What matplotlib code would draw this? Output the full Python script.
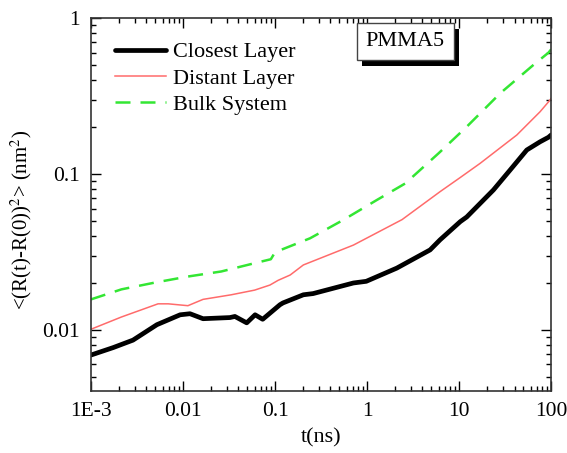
import matplotlib
matplotlib.use("Agg")
import matplotlib.pyplot as plt
from matplotlib import patheffects
from matplotlib.ticker import LogLocator, FixedLocator, FixedFormatter, NullFormatter

# values (t in ns, MSD in nm^2)
closest_t = [0.001, 0.00174, 0.00286, 0.0052, 0.0093, 0.0119, 0.0165, 0.0323, 0.0366,
             0.0492, 0.0607, 0.0734, 0.113, 0.122, 0.203, 0.259, 0.71, 0.98, 2.1,
             4.84, 6.2, 10.3, 12.1, 23.6, 35.8, 54.4, 75.9, 93.5, 100]
closest_msd = [0.0069, 0.0077, 0.0086, 0.0108, 0.0125, 0.0127, 0.0118, 0.0120, 0.0122,
               0.0111, 0.0125, 0.0117, 0.0145, 0.0149, 0.0168, 0.0171, 0.0200, 0.0205, 0.0249,
               0.0326, 0.0378, 0.0495, 0.053, 0.079, 0.106, 0.1426, 0.161, 0.172, 0.178]

distant_t = [0.001, 0.00214, 0.00535, 0.0069, 0.0113, 0.0165, 0.0334, 0.06, 0.088,
             0.108, 0.146, 0.203, 0.71, 2.4, 6.2, 10.3, 16.9, 42.4, 75.9, 93.5, 100]
distant_msd = [0.0101, 0.0121, 0.0147, 0.0147, 0.0143, 0.0157, 0.0168, 0.018, 0.0194,
               0.0208, 0.0225, 0.0261, 0.035, 0.051, 0.077, 0.095, 0.117, 0.178, 0.251, 0.29, 0.305]

bulk_t = [0.001, 0.00214, 0.0049, 0.0113, 0.026, 0.06, 0.09, 0.1, 0.24, 0.55, 1.27,
          2.6, 6.0, 12.1, 27.9, 64, 93.5, 100]
bulk_msd = [0.0157, 0.0182, 0.0201, 0.022, 0.0237, 0.0268, 0.0284, 0.0315, 0.0387, 0.0507, 0.068,
            0.087, 0.136, 0.201, 0.329, 0.50, 0.60, 0.63]

x_ticks = [1e-3, 1e-2, 1e-1, 1, 10, 100]
x_labels = ["1E-3", "0.01", "0.1", "1", "10", "100"]
y_ticks = [0.01, 0.1, 1]
y_labels = ["0.01", "0.1", "1"]

plt.rcParams["font.family"] = ["Liberation Serif", "DejaVu Serif"]
plt.rcParams["mathtext.fontset"] = "stix"

fig = plt.figure(figsize=(5.67, 4.53), dpi=100)
ax = fig.add_axes([0.1605, 0.137, 0.8115, 0.823])

ax.plot(closest_t, closest_msd, color="black", lw=3.4, label="Closest Layer",
        solid_joinstyle="round", solid_capstyle="round")
ax.plot(distant_t, distant_msd, color="#ff6b6b", lw=1.1, label="Distant Layer")
ax.plot(bulk_t, bulk_msd, color="#33e633", lw=1.8, ls=(0, (6, 4)), label="Bulk System")

ax.set_xscale("log")
ax.set_yscale("log")
ax.set_xlim(1e-3, 100)
ax.set_ylim(0.00406, 1)

ax.xaxis.set_major_locator(FixedLocator(x_ticks))
ax.xaxis.set_major_formatter(FixedFormatter(x_labels))
ax.yaxis.set_major_locator(FixedLocator(y_ticks))
ax.yaxis.set_major_formatter(FixedFormatter(y_labels))
ax.xaxis.set_minor_locator(LogLocator(base=10, subs=range(2, 10), numticks=20))
ax.yaxis.set_minor_locator(LogLocator(base=10, subs=range(2, 10), numticks=20))
ax.xaxis.set_minor_formatter(NullFormatter())
ax.yaxis.set_minor_formatter(NullFormatter())

ax.tick_params(which="both", direction="in", top=True, right=True, labelsize=15.5, width=1)
ax.tick_params(which="major", length=7, pad=8)
ax.tick_params(which="minor", length=3.5)
for s in ax.spines.values():
    s.set_linewidth(1.2)
    s.set_color("#333333")

ax.set_xlabel("t(ns)", fontsize=16, labelpad=5)
ax.set_ylabel("<(R(t)-R(0))$^2$> (nm$^2$)", fontsize=15)
ax.yaxis.set_label_coords(-0.124, 0.458)

leg = ax.legend(loc="upper left", frameon=False, fontsize=16, handlelength=2.3,
                handletextpad=0.3, labelspacing=0.25, borderaxespad=0.5,
                bbox_to_anchor=(0.009, 0.99))

# boxed label with a drop shadow
lbl = ax.text(0.683, 0.937, "PMMA5", transform=ax.transAxes, fontsize=16, ha="center",
              va="center", bbox=dict(boxstyle="square,pad=0.4", fc="white", ec="#444444", lw=1))
lbl.get_bbox_patch().set_path_effects([
    patheffects.SimplePatchShadow(offset=(4, -4), shadow_rgbFace="black", alpha=1),
    patheffects.Normal()])

fig.savefig("out.png", dpi=100)
